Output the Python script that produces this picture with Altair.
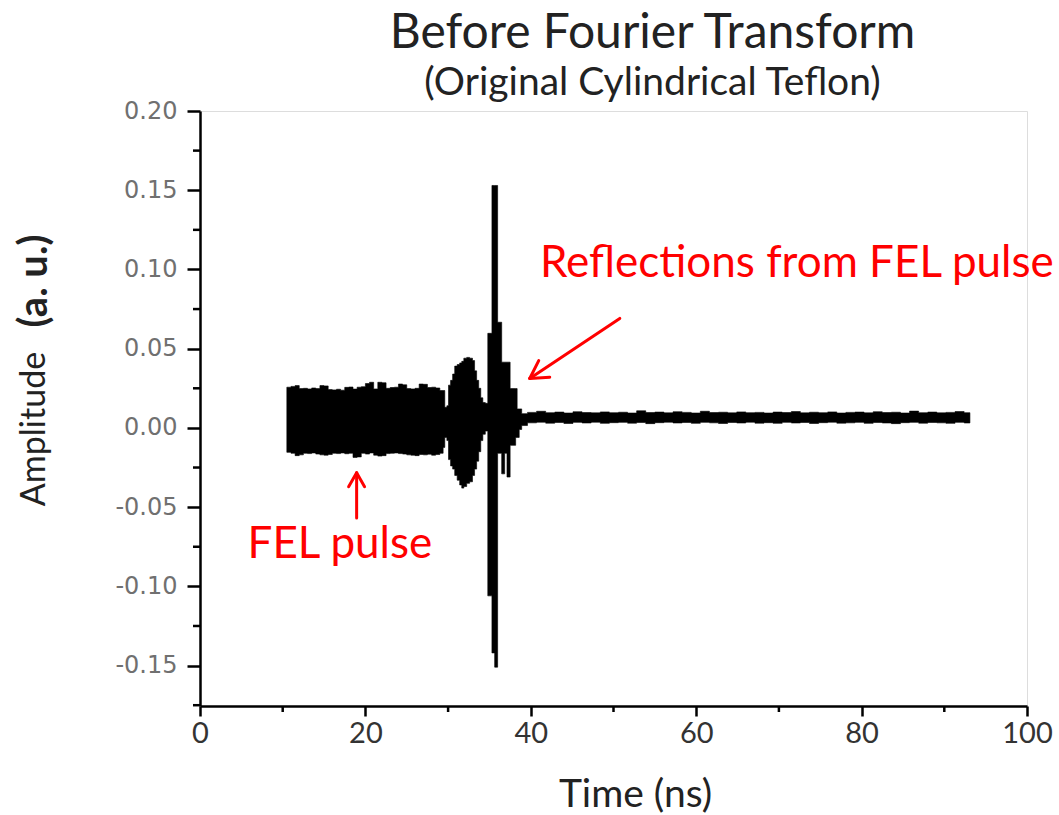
import altair as alt
import pandas as pd

# ---------------- data ----------------
# FEL pulse block: time (ns), upper and lower envelope (a.u.)
fel_t = [10.5, 11.0, 11.5, 12.0, 12.5, 13.0, 13.5, 14.0, 14.5, 15.0,
         15.5, 16.0, 16.5, 17.0, 17.5, 18.0, 18.5, 19.0, 19.5, 20.0,
         20.5, 21.0, 21.5, 22.0, 22.5, 23.0, 23.5, 24.0, 24.5, 25.0,
         25.5, 26.0, 26.5, 27.0, 27.5, 28.0, 28.5, 29.0, 29.4]
fel_up = [0.0257, 0.0262, 0.0267, 0.0248, 0.0250, 0.0246, 0.0252, 0.0248, 0.0267, 0.0265,
          0.0242, 0.0240, 0.0244, 0.0238, 0.0256, 0.0258, 0.0245, 0.0257, 0.0260, 0.0280,
          0.0288, 0.0246, 0.0288, 0.0285, 0.0250, 0.0255, 0.0257, 0.0277, 0.0272, 0.0248,
          0.0246, 0.0250, 0.0277, 0.0275, 0.0255, 0.0257, 0.0252, 0.0236, 0.0236]
fel_lo = [-0.0154, -0.0160, -0.0175, -0.0170, -0.0160, -0.0162, -0.0158, -0.0165, -0.0170, -0.0172,
          -0.0168, -0.0160, -0.0162, -0.0158, -0.0163, -0.0160, -0.0186, -0.0183, -0.0160, -0.0165,
          -0.0158, -0.0172, -0.0178, -0.0175, -0.0162, -0.0160, -0.0158, -0.0162, -0.0165, -0.0170,
          -0.0172, -0.0175, -0.0168, -0.0170, -0.0166, -0.0172, -0.0168, -0.0160, -0.0123]

# reflections burst and main spike
burst_t = [29.6, 29.85, 30.05, 30.3, 30.55, 30.8, 31.1, 31.4, 31.65, 31.9,
           32.25, 32.6, 32.95, 33.2, 33.45, 33.7, 33.95, 34.2, 34.5, 34.8,
           35.3, 35.63, 35.99, 36.48, 36.84, 37.12, 37.5, 38.17, 38.35, 38.6,
           38.9]
burst_up = [0.0130, 0.0140, 0.0270, 0.0300, 0.0340, 0.0390, 0.0400, 0.0410, 0.0420, 0.0440,
            0.0445, 0.0440, 0.0425, 0.0360, 0.0300, 0.0250, 0.0190, 0.0160, 0.0155, 0.0597,
            0.1530, 0.1530, 0.0667, 0.0415, 0.0415, 0.0415, 0.0248, 0.0248, 0.0120, 0.0120,
            0.0090]
burst_lo = [-0.0060, -0.0080, -0.0200, -0.0240, -0.0260, -0.0300, -0.0330, -0.0360, -0.0380, -0.0370,
            -0.0350, -0.0340, -0.0300, -0.0260, -0.0210, -0.0150, -0.0080, -0.0040, -0.0020, -0.1060,
            -0.1420, -0.1510, -0.0160, -0.0290, -0.0160, -0.0310, -0.0110, -0.0060, -0.0060, -0.0010,
            0.0015]

# quiet tail
tail_t = [39.6, 40.7, 41.8, 42.9, 44.0, 45.1, 46.2, 47.3, 48.4, 49.5,
          50.6, 51.7, 52.8, 53.9, 55.0, 56.1, 57.2, 58.3, 59.4, 60.5,
          61.6, 62.7, 63.8, 64.9, 66.0, 67.1, 68.2, 69.3, 70.4, 71.5,
          72.6, 73.7, 74.8, 75.9, 77.0, 78.1, 79.2, 80.3, 81.4, 82.5,
          83.6, 84.7, 85.8, 86.9, 88.0, 89.1, 90.2, 91.3, 92.4, 93.1]
tail_up = [0.0098, 0.0105, 0.0096, 0.0100, 0.0094, 0.0102, 0.0097, 0.0095, 0.0101, 0.0096,
           0.0099, 0.0094, 0.0108, 0.0097, 0.0100, 0.0095, 0.0102, 0.0098, 0.0094, 0.0105,
           0.0097, 0.0099, 0.0095, 0.0101, 0.0096, 0.0098, 0.0094, 0.0100, 0.0097, 0.0103,
           0.0095, 0.0099, 0.0096, 0.0101, 0.0094, 0.0098, 0.0100, 0.0095, 0.0102, 0.0097,
           0.0099, 0.0094, 0.0106, 0.0096, 0.0100, 0.0095, 0.0098, 0.0103, 0.0096, 0.0092]
tail_lo = [0.0032, 0.0036, 0.0030, 0.0034, 0.0028, 0.0035, 0.0031, 0.0036, 0.0029, 0.0033,
           0.0035, 0.0030, 0.0034, 0.0027, 0.0033, 0.0036, 0.0031, 0.0034, 0.0029, 0.0035,
           0.0032, 0.0028, 0.0034, 0.0031, 0.0036, 0.0030, 0.0033, 0.0029, 0.0035, 0.0031,
           0.0034, 0.0028, 0.0033, 0.0036, 0.0030, 0.0032, 0.0035, 0.0029, 0.0034, 0.0031,
           0.0027, 0.0033, 0.0035, 0.0030, 0.0034, 0.0032, 0.0029, 0.0035, 0.0031, 0.0033]

# axes
x_major = [0, 20, 40, 60, 80, 100]
x_minor = [10, 30, 50, 70, 90]
y_major = [-0.15, -0.10, -0.05, 0.00, 0.05, 0.10, 0.15, 0.20]
y_minor = [-0.175, -0.125, -0.075, -0.025, 0.025, 0.075, 0.125, 0.175]

# annotations
ann_label = ["Reflections from FEL pulse", "FEL pulse"]
ann_t = [41.1, 5.75]
ann_v = [0.095, -0.082]

arrow_x1 = [50.76, 39.87, 39.87, 18.94, 18.94, 18.94]
arrow_y1 = [0.0691, 0.0312, 0.0312, -0.0568, -0.0283, -0.0283]
arrow_x2 = [39.87, 42.29, 40.96, 18.94, 17.97, 19.90]
arrow_y2 = [0.0312, 0.0320, 0.0425, -0.0283, -0.0371, -0.0371]

# ---------------- tables ----------------
wave = pd.DataFrame({
    "t": fel_t + burst_t + tail_t,
    "up": fel_up + burst_up + tail_up,
    "lo": fel_lo + burst_lo + tail_lo,
})
ymin_df = pd.DataFrame({"t": [0.0] * len(y_minor), "up": y_minor})
xmin_df = pd.DataFrame({"t": x_minor, "up": [0.0] * len(x_minor)})
ann_df = pd.DataFrame({"t": ann_t, "up": ann_v, "label": ann_label})
arr_df = pd.DataFrame({"t": arrow_x1, "up": arrow_y1, "t2": arrow_x2, "up2": arrow_y2})

W, H = 827, 595
xs = alt.Scale(domain=[0, 100], nice=False, zero=False)
ys = alt.Scale(domain=[-0.1755, 0.20], nice=False, zero=False)

FONT = "Lato"

X_ENC = alt.X("t:Q", scale=xs, title="Time (ns)", axis=alt.Axis(
    values=x_major, title="Time (ns)", grid=False, labelFlush=False,
    labelFont=FONT, labelFontSize=29, labelColor="#333333", labelPadding=3,
    tickSize=10, tickWidth=2.5, tickColor="black",
    domainWidth=2.5, domainColor="black",
    titleFont=FONT, titleFontSize=39, titleFontWeight="normal", titleColor="#222222",
    titleX=435, titleY=88, titleBaseline="middle", titleAnchor="middle", titleAlign="center"))
Y_ENC = alt.Y("up:Q", scale=ys, title="", axis=alt.Axis(
    values=y_major, title="", grid=False,
    labelExpr="replace(format(datum.value, '.2f'), '\u2212', '-')",
    labelFont="DejaVu Sans", labelFontSize=24, labelColor="#707070", labelPadding=10,
    tickSize=13, tickWidth=2.5, tickColor="black",
    domainWidth=2.5, domainColor="black"))

area = alt.Chart(wave).mark_area(
    color="black", interpolate="step-after", stroke="black", strokeWidth=0.6
).encode(x=X_ENC, y=Y_ENC, y2="lo:Q")

ymin = alt.Chart(ymin_df).mark_rule(color="black", strokeWidth=2.5).encode(
    y=alt.Y("up:Q", scale=ys, title=""), x=alt.value(-7), x2=alt.value(0))
xmin = alt.Chart(xmin_df).mark_rule(color="black", strokeWidth=2.5).encode(
    x=alt.X("t:Q", scale=xs, title="Time (ns)"), y=alt.value(H), y2=alt.value(H + 6))

arrows = alt.Chart(arr_df).mark_rule(color="#ff0000", strokeWidth=3, strokeCap="round").encode(
    x=alt.X("t:Q", scale=xs, title="Time (ns)"), y=alt.Y("up:Q", scale=ys, title=""),
    x2="t2:Q", y2="up2:Q")

texts = alt.Chart(ann_df).mark_text(
    color="#ff0000", font=FONT, fontSize=44, align="left", baseline="alphabetic"
).encode(
    x=alt.X("t:Q", scale=xs, title="Time (ns)"), y=alt.Y("up:Q", scale=ys, title=""),
    text="label:N")

ytitle1 = alt.Chart(pd.DataFrame({"s": ["Amplitude"]})).mark_text(
    font=FONT, fontSize=34, color="#222222", angle=270, align="center", baseline="middle"
).encode(x=alt.value(-165), y=alt.value(318), text="s:N")
ytitle2 = alt.Chart(pd.DataFrame({"s": ["(a. u.)"]})).mark_text(
    font=FONT, fontSize=40, fontWeight="bold", color="#222222", angle=270, align="center", baseline="middle"
).encode(x=alt.value(-165), y=alt.value(170), text="s:N")

chart = alt.layer(area, ymin, xmin, arrows, texts, ytitle1, ytitle2).properties(
    width=W, height=H,
    title=alt.TitleParams(
        text="Before Fourier Transform", subtitle="(Original Cylindrical Teflon)",
        font=FONT, fontSize=48, fontWeight="normal", color="#222222",
        subtitleFont=FONT, subtitleFontSize=39, subtitleColor="#222222",
        subtitlePadding=6, anchor="middle", dx=39, dy=14, offset=10),
    autosize=alt.AutoSizeParams(type="none"),
    padding={"left": 200, "top": 111, "right": 32, "bottom": 109},
).configure_view(strokeWidth=0).configure(background="white")

chart.save("out.html", embed_options={"renderer": "svg", "actions": False})
